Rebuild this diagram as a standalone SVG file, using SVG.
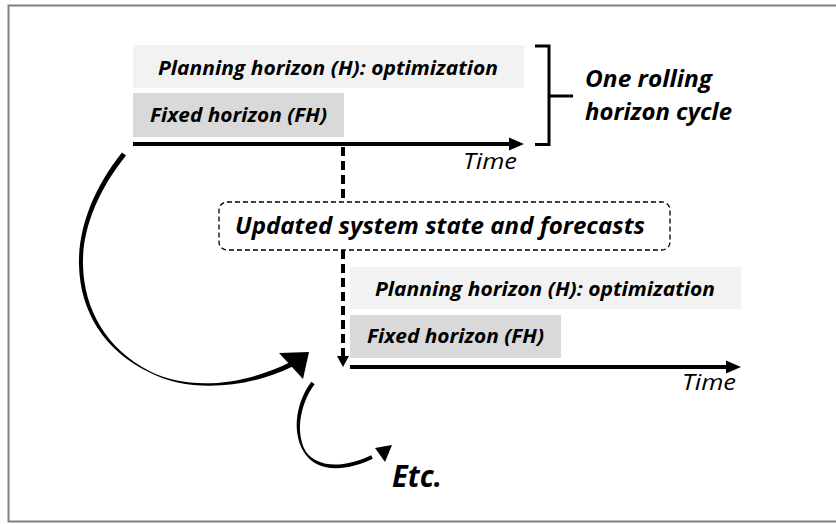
<svg xmlns="http://www.w3.org/2000/svg" width="836" height="524" viewBox="0 0 836 524">
<style>
.t{font-family:"Open Sans","Noto Sans","DejaVu Sans",sans-serif;font-weight:bold;font-style:italic;fill:#000}
.time{font-family:"Open Sans","Noto Sans","DejaVu Sans",sans-serif;font-style:italic;font-size:21px;fill:#000}
.plan{fill:#f2f2f2}
.fix{fill:#d9d9d9}
.axis{stroke:#000;stroke-width:4;fill:none}
.dash{stroke:#000;stroke-width:4;stroke-dasharray:9 5;fill:none}
</style>
<rect x="8.5" y="5.5" width="840" height="516" fill="#fff" stroke="#808080" stroke-width="2"/>

<g id="cycle1">
<rect class="plan" x="133" y="45" width="391" height="43"/>
<text class="t" x="158" y="75" font-size="20" textLength="340" lengthAdjust="spacingAndGlyphs">Planning horizon (H): optimization</text>
<rect class="fix" x="133" y="93" width="211" height="44"/>
<text class="t" x="150" y="122" font-size="20" textLength="177" lengthAdjust="spacingAndGlyphs">Fixed horizon (FH)</text>
<line class="axis" x1="133" y1="144" x2="512" y2="144"/>
<path d="M509,137.5 L524,144 L509,150.5 Z"/>
<text class="time" x="463" y="169" textLength="54" lengthAdjust="spacingAndGlyphs">Time</text>
</g>

<g id="bracket">
<path d="M535,46 L549,46 L549,144.5 L535,144.5 M549,96 L573,96" stroke="#000" stroke-width="3" fill="none"/>
<text class="t" x="585" y="87" font-size="23.5" textLength="127" lengthAdjust="spacingAndGlyphs">One rolling</text>
<text class="t" x="585" y="120" font-size="23.5" textLength="147" lengthAdjust="spacingAndGlyphs">horizon cycle</text>
</g>

<g id="update">
<rect x="219" y="202" width="451" height="48" rx="8" ry="8" fill="#fff" stroke="#000" stroke-width="1.3" stroke-dasharray="5 3"/>
<text class="t" x="235" y="234" font-size="23.5" textLength="410" lengthAdjust="spacingAndGlyphs">Updated system state and forecasts</text>
</g>

<g id="cycle2">
<rect class="plan" x="350" y="267" width="391" height="42"/>
<text class="t" x="375" y="296" font-size="20" textLength="340" lengthAdjust="spacingAndGlyphs">Planning horizon (H): optimization</text>
<rect class="fix" x="350" y="315" width="211" height="43"/>
<text class="t" x="367" y="343" font-size="20" textLength="177" lengthAdjust="spacingAndGlyphs">Fixed horizon (FH)</text>
<line class="axis" x1="350" y1="367" x2="729" y2="367"/>
<path d="M726,360.5 L741,367 L726,373.5 Z"/>
<text class="time" x="682" y="390" textLength="54" lengthAdjust="spacingAndGlyphs">Time</text>
</g>

<g id="etc">
<text class="t" x="392" y="487" font-size="30" textLength="50" lengthAdjust="spacingAndGlyphs">Etc.</text>
</g>

<g id="connectors">
<line class="dash" x1="343" y1="147" x2="343" y2="202"/>
<line class="dash" x1="343" y1="250" x2="343" y2="358"/>
<path d="M337,356 L349,356 L343,367 Z"/>
<path d="M122,152.4 C93,188.5 78,229 79,265 C80,311 104,351 149.7,372.5 C185,391 241,391.5 293.1,366.2 L290.9,361.8 C239,388 185,389 150.3,371.5 C106,349 84,309 83,265 C82,231 97,191.5 126,155.6 Z"/>
<path d="M279,353 L309,352 L303,379 Z"/>
<path d="M311.4,381.8 C298,399 290,430 304.2,452.5 C315,470 341,474 372.8,458.8 L371.2,455.2 C340,470 316,466 305.8,451.5 C294,430 302,401 314.6,384.2 Z"/>
<path d="M375,448 L392,445 L385,462 Z"/>
</g>
</svg>
